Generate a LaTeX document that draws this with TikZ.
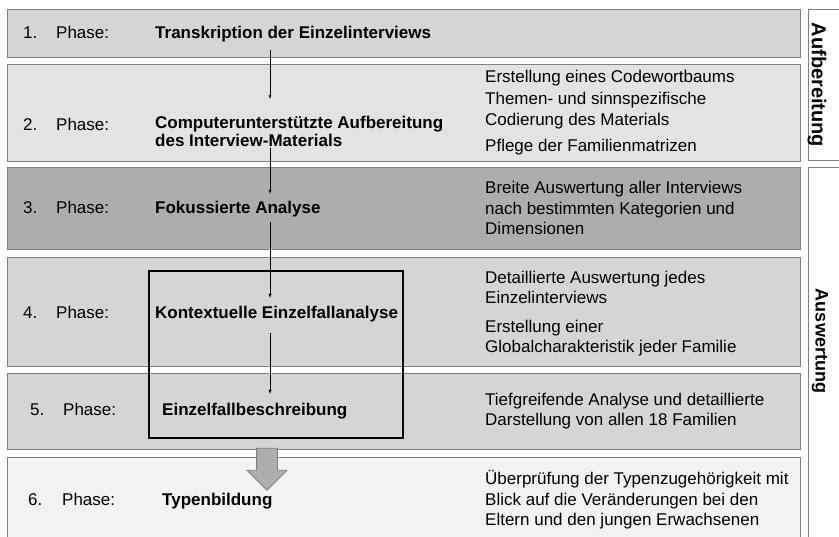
\documentclass[tikz,border=0pt]{standalone}
\usepackage{fontspec}
\setmainfont{Liberation Sans}
\usetikzlibrary{shapes.arrows}
\definecolor{rowlight}{HTML}{E3E3E3}
\definecolor{rowmid}{HTML}{D5D5D5}
\definecolor{rowdark}{HTML}{ADADAD}
\definecolor{rowpale}{HTML}{F2F2F2}
\definecolor{rowline}{HTML}{808080}
\begin{document}
\begin{tikzpicture}[x=1pt,y=-1pt,-latex,thin,
  font=\fontsize{17}{20.5}\selectfont,
  rowbox/.style={draw=rowline,line width=1.2pt,anchor=north west,inner sep=0pt,minimum width=793pt},
  sidebox/.style={draw=rowline,line width=1.2pt,fill=white,anchor=north west,inner sep=0pt,minimum width=45pt},
  num/.style={anchor=base west,inner sep=0pt},
  title/.style={anchor=base west,inner sep=0pt,font=\fontsize{17}{18}\selectfont\bfseries,align=left},
  note/.style={anchor=west,inner sep=0pt,align=left},
  sidelabel/.style={rotate=-90,font=\fontsize{20}{22}\selectfont\bfseries,inner sep=0pt}]

\useasboundingbox (0,0) rectangle (839,537);

% phase rows
\node[rowbox,fill=rowmid,minimum height=48pt] (r1) at (7,9) {};
\node[rowbox,fill=rowlight,minimum height=97pt] (r2) at (7,64) {};
\node[rowbox,fill=rowdark,minimum height=82pt] (r3) at (7,167) {};
\node[rowbox,fill=rowmid,minimum height=109pt] (r4) at (7,257) {};
\node[rowbox,fill=rowmid,minimum height=76pt] (r5) at (7,373) {};
\node[rowbox,fill=rowpale,minimum height=110pt] (r6) at (7,457) {};

% side boxes
\node[sidebox,minimum height=151pt] (aufb) at (808,9) {};
\node[sidebox,minimum height=400pt] (ausw) at (808,167) {};
\node[sidelabel] (laufb) at (817,85) {Aufbereitung};
\node[sidelabel,font=\fontsize{18}{20}\selectfont\bfseries] (lausw) at (820,341) {Auswertung};

% bold frame round phases 4 and 5
\node[draw=black,line width=2pt,anchor=north west,inner sep=0pt,minimum width=254pt,minimum height=167pt] (frame) at (148,270) {};

% numbers and "Phase:"
\node[num] (n1) at (23,39) {1.};
\node[num] (p1) at (56,39) {Phase:};
\node[num] (n2) at (23,131) {2.};
\node[num] (p2) at (56,131) {Phase:};
\node[num] (n3) at (23,214) {3.};
\node[num] (p3) at (56,214) {Phase:};
\node[num] (n4) at (23,319) {4.};
\node[num] (p4) at (56,319) {Phase:};
\node[num] (n5) at (30,416) {5.};
\node[num] (p5) at (63,416) {Phase:};
\node[num] (n6) at (28,506) {6.};
\node[num] (p6) at (62,506) {Phase:};

% titles
\node[title] (t1) at (155,39) {Transkription der Einzelinterviews};
\node[title,anchor=west] (t2) at (155,131) {Computerunterstützte Aufbereitung\\des Interview-Materials};
\node[title] (t3) at (155,214) {Fokussierte Analyse};
\node[title] (t4) at (155,319) {Kontextuelle Einzelfallanalyse};
\node[title] (t5) at (162,416) {Einzelfallbeschreibung};
\node[title] (t6) at (162,506) {Typenbildung};

% notes
\node[note] (d2a) at (485,78) {Erstellung eines Codewortbaums};
\node[note] (d2b) at (485,110.5) {Themen- und sinnspezifische\\Codierung des Materials};
\node[note] (d2c) at (485,147) {Pflege der Familienmatrizen};
\node[note] (d3) at (485,208) {Breite Auswertung aller Interviews\\nach bestimmten Kategorien und\\Dimensionen};
\node[note] (d4a) at (485,287.5) {Detaillierte Auswertung jedes\\Einzelinterviews};
\node[note] (d4b) at (485,338) {Erstellung einer\\Globalcharakteristik jeder Familie};
\node[note] (d5) at (485,411) {Tiefgreifende Analyse und detaillierte\\Darstellung von allen 18 Familien};
\node[note] (d6) at (485,500) {Überprüfung der Typenzugehörigkeit mit\\Blick auf die Veränderungen bei den\\Eltern und den jungen Erwachsenen};

% flow
\coordinate (a1) at (270,50);
\coordinate (b1) at (270,99);
\coordinate (a2) at (270,148);
\coordinate (b2) at (270,194);
\coordinate (a3) at (270,222);
\coordinate (b3) at (270,298);
\coordinate (a4) at (270,333);
\coordinate (b4) at (270,394);
\draw (a1) -- (b1);
\draw (a2) -- (b2);
\draw (a3) -- (b3);
\draw (a4) -- (b4);

\node[single arrow,draw=rowline,fill=rowdark,line width=0.8pt,inner xsep=0pt,inner ysep=10pt,
  minimum height=42pt,single arrow head extend=9.5pt,
  rotate=-90] (pfeil) at (267,464) {};
\end{tikzpicture}
\end{document}
